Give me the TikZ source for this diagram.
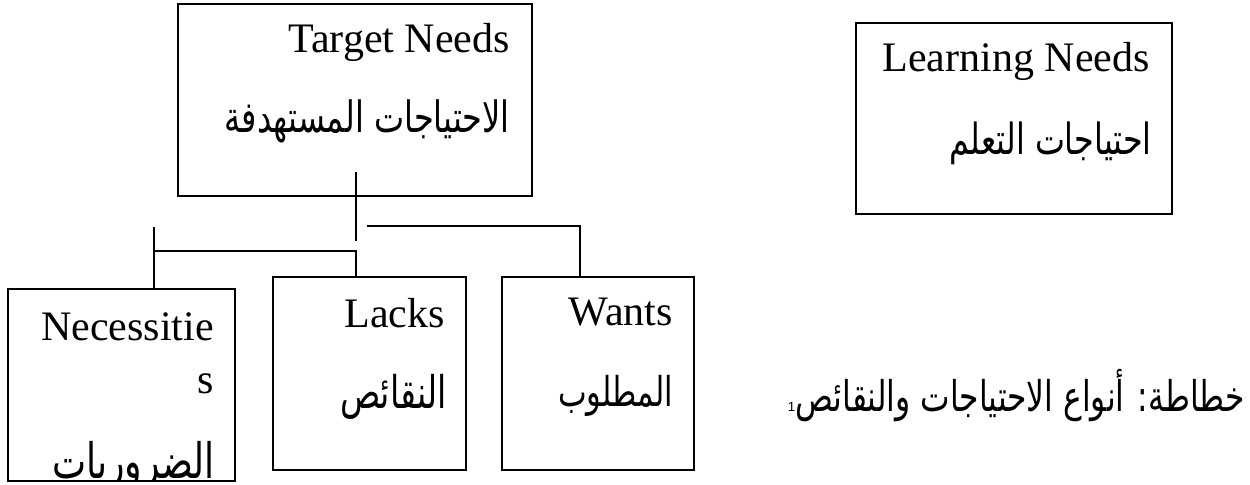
\documentclass[tikz,border=0pt]{standalone}
\usepackage{fontspec}
\usepackage{graphicx}
\setmainfont{Liberation Serif}
\newfontfamily\arabicfont[Script=Arabic]{DejaVu Sans}
\newfontfamily\notefont{Liberation Sans}
\TeXXeTstate=1
\usetikzlibrary{fit}

% Arabic line scaled to a given width, then made a little taller
\newcommand\artext[2]{\scalebox{1}[1.35]{\resizebox{#1}{!}{\arabicfont #2}}}

\begin{document}
\begin{tikzpicture}[x=0.75pt, y=-0.75pt,
  box/.style={draw, line width=1.2pt, inner sep=0pt},
  conn/.style={draw, line width=1.2pt},
  en/.style={font=\fontsize{31.5}{38}\selectfont, inner sep=0pt, anchor=base east},
  ar/.style={inner sep=0pt, anchor=base east}]

\useasboundingbox (0,0) rectangle (1250,485);

% boxes
\coordinate (t1) at (178,4);    \coordinate (t2) at (532,196);
\coordinate (l1) at (856,23);   \coordinate (l2) at (1172,214);
\coordinate (n1) at (8,289);    \coordinate (n2) at (235,481);
\coordinate (k1) at (273,277);  \coordinate (k2) at (466,470);
\coordinate (w1) at (502,277);  \coordinate (w2) at (694,470);

\node[box, fit=(t1)(t2)] (target) {};
\node[box, fit=(l1)(l2)] (learning) {};
\node[box, fit=(n1)(n2)] (necess) {};
\node[box, fit=(k1)(k2)] (lacks) {};
\node[box, fit=(w1)(w2)] (wants) {};

% box texts
\node[en] (targetEn) at (510,53) {Target Needs};
\node[ar] (targetAr) at (510,132) {\artext{213.75pt}{\beginR الاحتياجات المستهدفة\endR}};

\node[en] (learningEn) at (1150,72) {Learning Needs};
\node[ar] (learningAr) at (1152,154) {\artext{151.5pt}{\beginR احتياجات التعلم\endR}};

\node[en] (necessEnA) at (214,340) {Necessitie};
\node[en] (necessEnB) at (214,393) {s};
\begin{scope}
  \clip (n1) rectangle (n2);
  \node[ar] (necessAr) at (215,478) {\artext{122pt}{\beginR الضروريات\endR}};
\end{scope}

\node[en] (lacksEn) at (445,327) {Lacks};
\node[ar] (lacksAr) at (447,408) {\artext{80pt}{\beginR النقائص\endR}};

\node[en] (wantsEn) at (673,325) {Wants};
\node[ar] (wantsAr) at (673,406) {\artext{86pt}{\beginR المطلوب\endR}};

% connectors
\coordinate (stemTop) at (356,172);
\coordinate (stemEnd) at (356,241);
\draw[conn] (stemTop) -- (stemEnd);

\coordinate (wantsStart) at (367,226);
\coordinate (wantsJoin) at (580,226);
\draw[conn] (wantsStart) -- (wantsJoin) -- (wantsJoin |- wants.north);

\coordinate (necTop) at (154,227);
\draw[conn] (necTop) -- (necTop |- necess.north);

\coordinate (lacksFork) at (154,251);
\coordinate (lacksJoin) at (356,251);
\draw[conn] (lacksFork) -- (lacksJoin) -- (lacksJoin |- lacks.north);

% caption
\node[ar] (caption) at (1245,411)
  {{\notefont\fontsize{10}{12}\selectfont 1}\artext{337pt}{\beginR خطاطة: أنواع الاحتياجات والنقائص\endR}};

\end{tikzpicture}
\end{document}
